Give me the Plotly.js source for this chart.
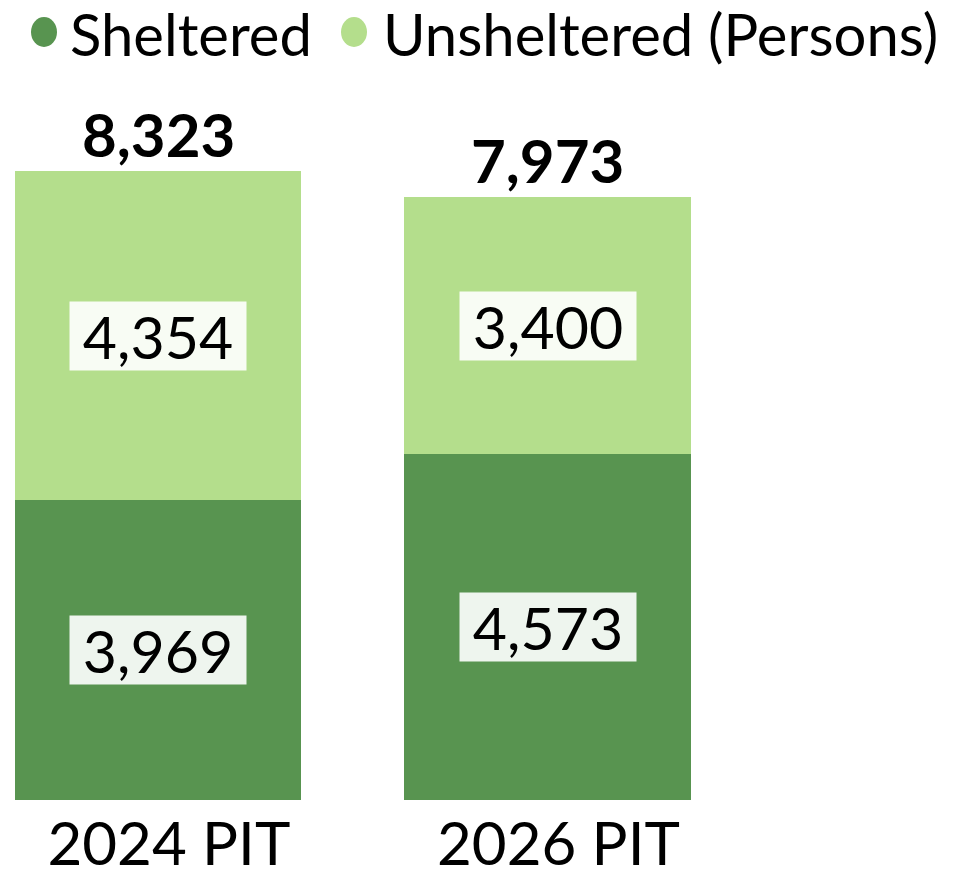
<!DOCTYPE html>
<html>
<head>
<meta charset="utf-8">
<script src="https://cdn.plot.ly/plotly-3.0.1.min.js"></script>
<style>html,body{margin:0;padding:0;background:#fff;}#chart{width:964px;height:879px;}</style>
</head>
<body>
<div id="chart"></div>
<script>
const categories = ["2024 PIT", "2026 PIT"];
const sheltered = [3969, 4573];
const unsheltered = [4354, 3400];
const totals = [8323, 7973];
const seriesNames = ["Sheltered", "Unsheltered (Persons)"];

const darkGreen = "rgb(88,148,80)";
const lightGreen = "rgb(180,222,140)";
const seriesColors = [darkGreen, lightGreen];
const FONT = "Lato, 'Open Sans', sans-serif";

const W = 964, H = 879, MB = 79;
const PH = H - MB; // plot height in px (top margin 0)
const px2x = p => p / W;
const py2y = p => (PH - p) / PH;

const xIdx = categories.map((c, i) => i);
const fmt = v => v.toLocaleString("en-US");

const traces = [
  {type: "bar", x: xIdx, y: sheltered, name: seriesNames[0], marker: {color: darkGreen, line: {width: 0}}, showlegend: false, hoverinfo: "skip"},
  {type: "bar", x: xIdx, y: unsheltered, name: seriesNames[1], marker: {color: lightGreen, line: {width: 0}}, showlegend: false, hoverinfo: "skip"}
];

const annotations = [];
xIdx.forEach(i => {
  annotations.push({x: i, y: sheltered[i] / 2, xref: "x", yref: "y", text: fmt(sheltered[i]), showarrow: false,
    font: {family: FONT, size: 59, color: "#000"}, bgcolor: "rgba(255,255,255,0.9)", width: 176, height: 68, borderpad: 0});
  annotations.push({x: i, y: sheltered[i] + unsheltered[i] / 2, xref: "x", yref: "y", text: fmt(unsheltered[i]), showarrow: false,
    font: {family: FONT, size: 59, color: "#000"}, bgcolor: "rgba(255,255,255,0.9)", width: 176, height: 68, borderpad: 0});
  annotations.push({x: i, y: totals[i], xref: "x", yref: "y", text: "<b>" + fmt(totals[i]) + "</b>", showarrow: false,
    yanchor: "bottom", yshift: -1, font: {family: FONT, size: 60, color: "#000"}});
});

// legend drawn as circles + text
const legendMarkX = [44, 354];
const legendTextX = [68, 381];
const legendY = 32;
const shapes = [];
seriesNames.forEach((name, k) => {
  shapes.push({type: "circle", xref: "paper", yref: "paper", xsizemode: "pixel", ysizemode: "pixel",
    xanchor: px2x(legendMarkX[k]), yanchor: py2y(legendY), x0: -13, x1: 13, y0: -15, y1: 15,
    fillcolor: seriesColors[k], line: {width: 0}});
  annotations.push({x: px2x(legendTextX[k]), y: py2y(legendY + 1), xref: "paper", yref: "paper", text: name,
    showarrow: false, xanchor: "left", yanchor: "middle", font: {family: FONT, size: 58, color: "#000"}});
});

const layout = {
  width: W, height: H,
  margin: {l: 0, r: 0, t: 0, b: MB},
  paper_bgcolor: "#fff", plot_bgcolor: "#fff",
  barmode: "stack",
  bargap: 0.264,
  font: {family: FONT, color: "#000"},
  xaxis: {range: [-0.4056, 2.069], tickmode: "array", tickvals: xIdx.map(i => i + 0.028), ticktext: categories,
    tickfont: {family: FONT, size: 60, color: "#000"}, ticklabelstandoff: 4,
    showgrid: false, zeroline: false, showline: false, ticks: "", fixedrange: true},
  yaxis: {range: [0, 10586], visible: false, showgrid: false, zeroline: false, fixedrange: true},
  showlegend: false,
  shapes: shapes,
  annotations: annotations
};

Plotly.newPlot("chart", traces, layout, {displayModeBar: false, staticPlot: true});
</script>
</body>
</html>
